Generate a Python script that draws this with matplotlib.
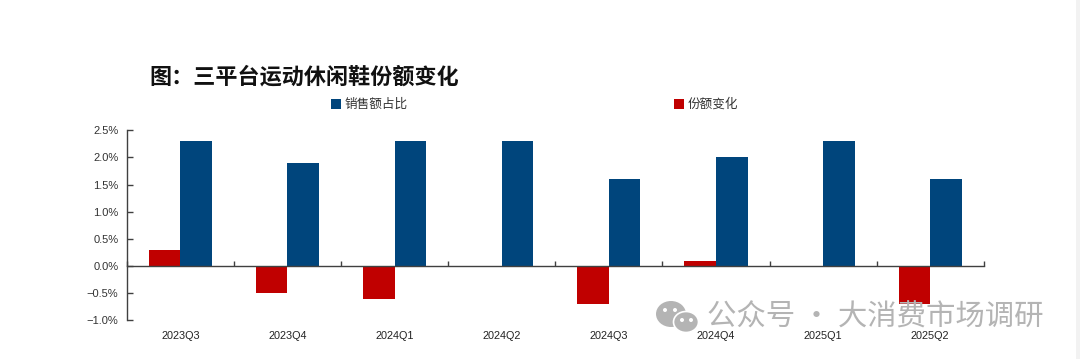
#Platform share chart
import matplotlib
matplotlib.use("Agg")
import numpy as np
import matplotlib.pyplot as plt
from matplotlib.patches import Ellipse, Rectangle
from matplotlib.ticker import FuncFormatter

plt.rcParams['font.family'] = ['Noto Sans CJK SC', 'DejaVu Sans']

quarters = ['2023Q3', '2023Q4', '2024Q1', '2024Q2', '2024Q3', '2024Q4', '2025Q1', '2025Q2']
share_change = [0.3, -0.5, -0.6, 0.0, -0.7, 0.1, 0.0, -0.7]
sales_share = [2.3, 1.9, 2.3, 2.3, 1.6, 2.0, 2.3, 1.6]
y_ticks = [-1.0, -0.5, 0.0, 0.5, 1.0, 1.5, 2.0, 2.5]

W = 1080; H = 359
BLUE = '#00457C'; RED = '#C00000'; AXIS = '#404040'; MARK = '#b4b4b4'
#==============================================================================================================
def fx(x):
    return x/W
def fy(y):
    return 1-y/H
#==============================================================================================================
fig = plt.figure(figsize=(W/100, H/100), dpi=100, facecolor='white')
ax = fig.add_axes([fx(126.8), fy(320.5), fx(983.8)-fx(126.8), fy(130.2)-fy(320.5)])

x = np.arange(len(quarters))
bar_w = 0.295
ax.bar(x-bar_w/2, share_change, width=bar_w, color=RED, label='份额变化', zorder=2)
ax.bar(x+bar_w/2, sales_share, width=bar_w, color=BLUE, label='销售额占比', zorder=2)

ax.set_xlim(-0.5, len(quarters)-0.5)
ax.set_ylim(-1.0, 2.5)
ax.set_yticks(y_ticks)
ax.yaxis.set_major_formatter(FuncFormatter(lambda v, p: f'{v:.1f}%'.replace('-', '−')))
ax.set_xticks(np.arange(len(quarters)+1)-0.5, minor=False)
ax.set_xticklabels([])
ax.set_xticks(x, minor=True)
ax.set_xticklabels(quarters, minor=True)

for s in ['top', 'right']:
    ax.spines[s].set_visible(False)
ax.spines['bottom'].set_position(('data', 0))
ax.spines['bottom'].set_color(AXIS)
ax.spines['left'].set_color(AXIS)
ax.spines['bottom'].set_linewidth(1.0)
ax.spines['left'].set_linewidth(1.0)
ax.tick_params(axis='x', which='major', direction='in', length=3.5, width=1.0, color=AXIS)
ax.tick_params(axis='x', which='minor', length=0, pad=47, labelsize=7.8,
               labelfontfamily='Liberation Sans', labelcolor='#222222')
ax.tick_params(axis='y', direction='in', length=4.5, width=1.0, color=AXIS, pad=6, labelsize=8,
               labelfontfamily='Liberation Sans', labelcolor='#333333')

fig.text(fx(149), fy(77), '图：三平台运动休闲鞋份额变化', fontsize=15.9, fontweight='bold',
         color='#111111', va='center', ha='left')

# legend is laid out by hand, the two entries sit far apart
handles, labels = ax.get_legend_handles_labels()
for hd, lb, x0 in [(handles[1], labels[1], 331), (handles[0], labels[0], 674)]:
    fig.patches.append(Rectangle((fx(x0), fy(109)), 9.5/W, 10/H, transform=fig.transFigure,
                                 facecolor=hd[0].get_facecolor(), edgecolor='none', figure=fig))
    fig.text(fx(x0+14), fy(104.5), lb, fontsize=9.1, color='#333333', va='center', ha='left')

# watermark
fig.text(fx(707), fy(317), '公众号 · 大消费市场调研', fontsize=21.2, color=MARK, va='center', ha='left', zorder=6)
for cx, cy, w, h, ec in [(671, 314, 30, 26, 'none'), (686, 322, 25, 21, 'white')]:
    fig.patches.append(Ellipse((fx(cx), fy(cy)), w/W, h/H, transform=fig.transFigure,
                               facecolor=MARK, edgecolor=ec, linewidth=1.2, figure=fig, zorder=6))
for cx, cy in [(665, 310), (675, 310), (682, 320), (691, 320)]:
    fig.patches.append(Ellipse((fx(cx), fy(cy)), 4/W, 4/H, transform=fig.transFigure,
                               facecolor='white', edgecolor='none', figure=fig, zorder=7))

# grey strip on the right edge
fig.patches.append(Rectangle((fx(1075.5), 0), 1-fx(1075.5), 1, transform=fig.transFigure,
                             facecolor='#f2f2f2', edgecolor='none', figure=fig))

fig.savefig('out.png', dpi=100)
